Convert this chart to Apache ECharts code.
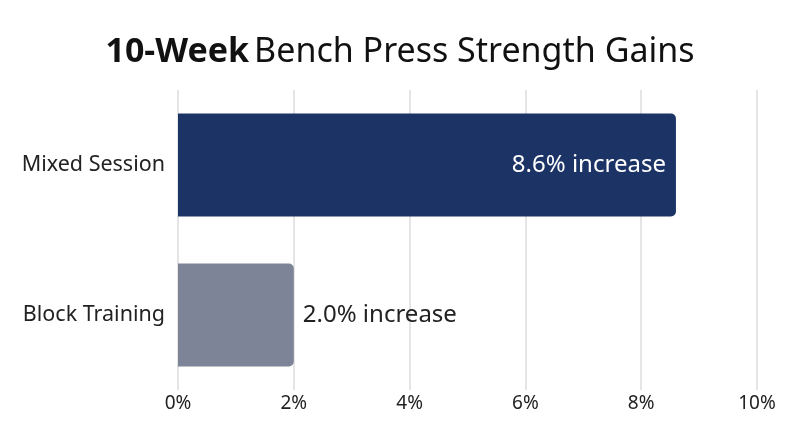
<!DOCTYPE html>
<html>
<head>
<meta charset="utf-8">
<script src="https://cdn.jsdelivr.net/npm/echarts@6/dist/echarts.min.js"></script>
<style>
html, body { margin: 0; padding: 0; background: #fff; }
#chart { width: 800px; height: 447px; }
</style>
</head>
<body>
<div id="chart"></div>
<script>
var categories = ['Block Training', 'Mixed Session'];
var gains = [2.0, 8.6];
var barColors = ['#7d8497', '#1c3465'];
var xTicks = [0, 2, 4, 6, 8, 10];

var font = '"Noto Sans", sans-serif';

var mychart = echarts.init(document.getElementById('chart'));
var option = {
    title: {
        text: '{b|10-Week} {n|Bench Press Strength Gains}',
        left: 'center',
        top: 30,
        textStyle: {
            rich: {
                b: { fontFamily: font, fontSize: 34, fontWeight: 'bold', color: '#111' },
                n: { fontFamily: font, fontSize: 34, fontWeight: 'normal', color: '#111' }
            }
        }
    },
    grid: {
        left: 178,
        right: 43,
        top: 90,
        height: 300
    },
    xAxis: {
        type: 'value',
        min: xTicks[0],
        max: xTicks[xTicks.length - 1],
        interval: 2,
        axisLine: { show: false },
        axisTick: { show: false },
        axisLabel: {
            formatter: '{value}%',
            fontFamily: font,
            fontSize: 19,
            color: '#222',
            margin: 4
        },
        splitLine: { lineStyle: { color: '#dcdcdc', width: 1.5 } }
    },
    yAxis: {
        type: 'category',
        data: categories,
        axisLine: { show: false },
        axisTick: { show: false },
        axisLabel: {
            fontFamily: font,
            fontSize: 21.5,
            color: '#222',
            margin: 13
        }
    },
    series: [{
        type: 'bar',
        barWidth: 103,
        data: gains.map(function (v, i) {
            return {
                value: v,
                itemStyle: { color: barColors[i], borderRadius: [0, 5, 5, 0] },
                label: i === 1 ? {
                    position: 'insideRight',
                    color: '#fff',
                    distance: 10
                } : {
                    position: 'right',
                    color: '#222',
                    distance: 9
                }
            };
        }),
        label: {
            show: true,
            fontFamily: font,
            fontSize: 24,
            formatter: function (p) { return p.value.toFixed(1) + '% increase'; }
        }
    }]
};
mychart.setOption(option);
</script>
</body>
</html>
